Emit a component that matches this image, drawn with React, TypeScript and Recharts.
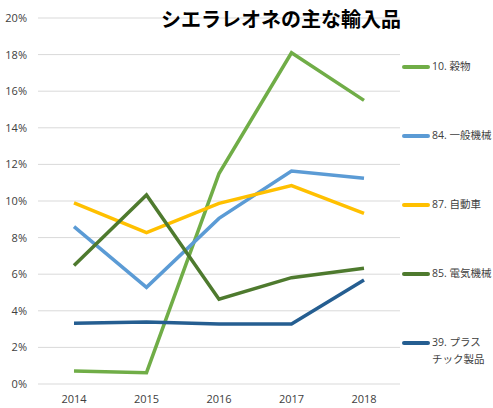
import React from 'react';
import { LineChart, Line, XAxis, YAxis, CartesianGrid, Legend } from 'recharts';

const years = ['2014', '2015', '2016', '2017', '2018'];
const cereals = [0.0071, 0.0062, 0.115, 0.181, 0.155];
const machinery = [0.086, 0.0528, 0.0905, 0.1164, 0.1124];
const vehicles = [0.099, 0.0827, 0.0987, 0.1084, 0.0933];
const electrical = [0.0647, 0.1033, 0.0463, 0.0581, 0.0632];
const plastics = [0.0332, 0.0339, 0.0328, 0.0328, 0.0568];
const yTicks = [0, 0.02, 0.04, 0.06, 0.08, 0.1, 0.12, 0.14, 0.16, 0.18, 0.2];

const series = [
  { key: 'c10', name: '10. 穀物', values: cereals, color: '#70AD47' },
  { key: 'c84', name: '84. 一般機械', values: machinery, color: '#5B9BD5' },
  { key: 'c87', name: '87. 自動車', values: vehicles, color: '#FFC000' },
  { key: 'c85', name: '85. 電気機械', values: electrical, color: '#4E7A2E' },
  { key: 'c39', name: '39. プラス\nチック製品', values: plastics, color: '#255E91' },
];

const data = years.map((year, i) => {
  const row: Record<string, string | number> = { year };
  series.forEach((s) => {
    row[s.key] = s.values[i];
  });
  return row;
});

const font = '"Open Sans", "Noto Sans CJK JP", sans-serif';

// keep legend entries in the series order, not sorted by name
const LegendList = (props: any) => {
  const order = series.map((s) => s.key);
  const payload = [...(props.payload || [])].sort(
    (a: any, b: any) => order.indexOf(a.dataKey) - order.indexOf(b.dataKey)
  );
  return (
    <div>
      {payload.map((item: any) => (
        <div key={item.dataKey} style={{ display: 'flex', height: 69, alignItems: 'flex-start' }}>
          <div
            style={{
              width: 28,
              height: 4,
              marginTop: 7,
              borderRadius: 2,
              background: item.color,
              flex: 'none',
            }}
          />
          <div
            style={{
              marginLeft: 2,
              fontSize: 10.5,
              lineHeight: '17px',
              color: '#404040',
              fontFamily: font,
              whiteSpace: 'pre',
            }}
          >
            {item.value}
          </div>
        </div>
      ))}
    </div>
  );
};

const App = () => {
  return (
    <div style={{ position: 'absolute', left: 0, top: 0, width: 493, height: 408, background: '#fff' }}>
      <div
        style={{
          position: 'absolute',
          left: 155,
          top: 7,
          width: 252,
          textAlign: 'center',
          fontSize: 20,
          lineHeight: '24px',
          fontWeight: 700,
          fontFamily: '"Noto Sans CJK JP", sans-serif',
          color: '#000',
          zIndex: 1,
        }}
      >
        シエラレオネの主な輸入品
      </div>
      <LineChart width={493} height={408} data={data} margin={{ top: 18, right: 2, left: 0, bottom: 0 }}>
        <CartesianGrid vertical={false} stroke="#D9D9D9" strokeWidth={1} />
        <XAxis
          dataKey="year"
          axisLine={false}
          tickLine={false}
          tickSize={0}
          tickMargin={11}
          height={24}
          padding={{ left: 36, right: 36 }}
          tick={{ fontSize: 11, fill: '#404040', fontFamily: font }}
        />
        <YAxis
          domain={[0, 0.2]}
          ticks={yTicks}
          width={38}
          axisLine={false}
          tickLine={false}
          tickSize={0}
          tickMargin={11}
          tickFormatter={(v: number) => `${Math.round(v * 100)}%`}
          tick={{ fontSize: 11, fill: '#404040', fontFamily: font }}
        />
        <Legend
          layout="vertical"
          align="right"
          verticalAlign="top"
          content={<LegendList />}
          wrapperStyle={{ position: 'absolute', left: 402, top: 58, width: 91 }}
        />
        {series.map((s) => (
          <Line
            key={s.key}
            type="linear"
            dataKey={s.key}
            name={s.name}
            stroke={s.color}
            strokeWidth={3.5}
            dot={false}
            activeDot={false}
            isAnimationActive={false}
          />
        ))}
      </LineChart>
    </div>
  );
};

export default App;
